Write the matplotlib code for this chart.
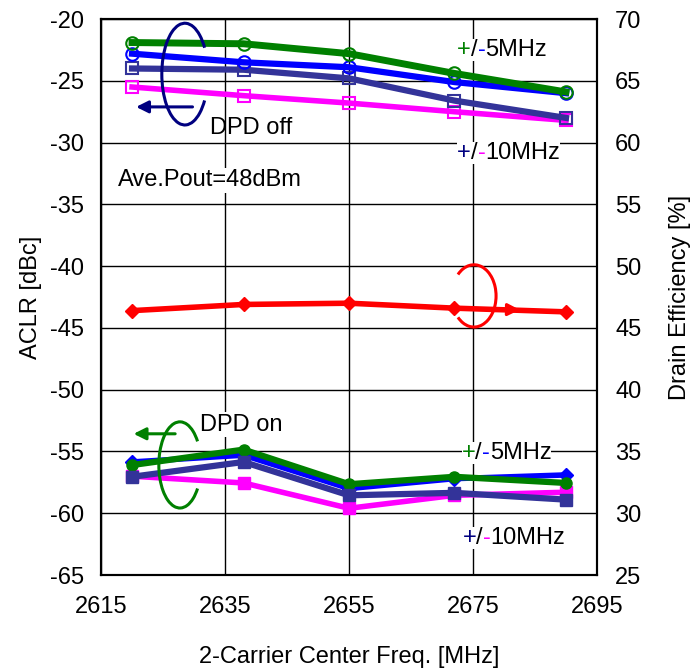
import matplotlib
matplotlib.use("Agg")
import matplotlib.pyplot as plt
from matplotlib.patches import Arc

plt.rcParams["font.family"] = ["Liberation Sans", "DejaVu Sans"]
plt.rcParams["font.size"] = 17
plt.rcParams["axes.unicode_minus"] = False

freq = [2620, 2638, 2655, 2672, 2690]

# ACLR, DPD off
off_plus5 = [-21.9, -22.0, -22.8, -24.4, -25.9]
off_minus5 = [-22.8, -23.5, -23.9, -25.1, -26.0]
off_plus10 = [-24.0, -24.1, -24.8, -26.6, -28.0]
off_minus10 = [-25.5, -26.2, -26.8, -27.5, -28.2]

# ACLR, DPD on
on_minus5 = [-55.85, -55.3, -58.0, -57.2, -56.9]
on_plus5 = [-56.1, -54.85, -57.65, -57.05, -57.55]
on_plus10 = [-57.05, -55.85, -58.55, -58.35, -58.9]
on_minus10 = [-57.0, -57.55, -59.6, -58.55, -58.3]

# drain efficiency
efficiency = [46.4, 46.9, 47.0, 46.6, 46.3]

GREEN = "#008000"
BLUE = "#0000ff"
SLATE = "#333399"
MAGENTA = "#ff00ff"
RED = "#ff0000"
NAVY = "#000080"

fig = plt.figure(figsize=(6.97, 6.69), dpi=100)
ax = fig.add_axes([0.145, 0.1405, 0.7115, 0.831])
ax2 = ax.twinx()

# DPD off - open markers
ax.plot(freq, off_minus10, color=MAGENTA, lw=4, marker="s", ms=8, mfc="none", mew=1.5, zorder=4)
ax.plot(freq, off_plus10, color=SLATE, lw=4.5, marker="s", ms=8, mfc="none", mew=1.5, zorder=4)
ax.plot(freq, off_minus5, color=BLUE, lw=4.5, marker="o", ms=9, mfc="none", mew=1.5, zorder=4)
ax.plot(freq, off_plus5, color=GREEN, lw=5, marker="o", ms=9, mfc="none", mew=1.5, zorder=4)

# DPD on - filled markers
ax.plot(freq, on_minus5, color=BLUE, lw=4, marker="D", ms=7, zorder=4)
ax.plot(freq, on_minus10, color=MAGENTA, lw=4, marker="s", ms=8, zorder=4)
ax.plot(freq, on_plus5, color=GREEN, lw=4.5, marker="o", ms=8, zorder=4)
ax.plot(freq, on_plus10, color=SLATE, lw=4.5, marker="s", ms=8, zorder=4)

ax2.plot(freq, efficiency, color=RED, lw=4, marker="D", ms=7, zorder=4)

ax.set_xlim(2615, 2695)
ax.set_ylim(-65, -20)
ax2.set_ylim(25, 70)
ax.set_xticks(range(2615, 2696, 20))
ax.set_yticks(range(-65, -19, 5))
ax2.set_yticks(range(25, 71, 5))
ax.grid(True, color="black", lw=1)
ax.tick_params(axis="y", length=0, pad=12)
ax.tick_params(axis="x", length=0, pad=15)
ax2.tick_params(length=0, pad=13)
for a in (ax, ax2):
    for s in a.spines.values():
        s.set_linewidth(1.5)

ax.set_xlabel("2-Carrier Center Freq. [MHz]")
ax.xaxis.set_label_coords(0.5, -0.128)
ax.set_ylabel("ACLR [dBc]", labelpad=6)
ax2.set_ylabel("Drain Efficiency [%]", labelpad=20)


def multi_text(axis, x, y, parts):
    # coloured pieces placed one after another, each on a white background
    box = dict(facecolor="white", edgecolor="none", pad=0)
    prev = axis.text(x, y, parts[0][0], color=parts[0][1], transform=axis.transAxes,
                     va="center", ha="left", bbox=box, zorder=3)
    for s, c in parts[1:]:
        prev = axis.annotate(s, xy=(1, 0), xycoords=prev, va="bottom", ha="left",
                             color=c, bbox=box, zorder=3)


multi_text(ax2, 0.718, 0.944, [("+", GREEN), ("/", "black"), ("-", BLUE), ("5MHz", "black")])
multi_text(ax2, 0.718, 0.759, [("+", NAVY), ("/", "black"), ("-", MAGENTA), ("10MHz", "black")])
multi_text(ax2, 0.727, 0.219, [("+", GREEN), ("/", "black"), ("-", BLUE), ("5MHz", "black")])
multi_text(ax2, 0.729, 0.0665, [("+", NAVY), ("/", "black"), ("-", MAGENTA), ("10MHz", "black")])

wbox = dict(facecolor="white", edgecolor="none", pad=1)
ax2.text(0.034, 0.710, "Ave.Pout=48dBm", transform=ax.transAxes, va="center", bbox=wbox, zorder=3)
ax2.text(0.220, 0.804, "DPD off", transform=ax.transAxes, va="center", zorder=3)
ax2.text(0.200, 0.270, "DPD on", transform=ax.transAxes, va="center", bbox=wbox, zorder=3)

# rotation arcs and arrows
ax2.add_patch(Arc((0.169, 0.901), 0.093, 0.183, theta1=50, theta2=310,
                  transform=ax.transAxes, color=NAVY, lw=2.2, zorder=5))
ax2.annotate("", xy=(0.065, 0.842), xytext=(0.19, 0.842), xycoords=ax.transAxes,
             arrowprops=dict(arrowstyle="-|>", color=NAVY, lw=2.2, mutation_scale=18), zorder=5)

ax2.add_patch(Arc((0.159, 0.198), 0.085, 0.155, theta1=50, theta2=310,
                  transform=ax.transAxes, color=GREEN, lw=2.2, zorder=5))
ax2.annotate("", xy=(0.060, 0.254), xytext=(0.155, 0.254), xycoords=ax.transAxes,
             arrowprops=dict(arrowstyle="-|>", color=GREEN, lw=2.2, mutation_scale=18), zorder=5)

ax2.add_patch(Arc((0.752, 0.502), 0.089, 0.112, theta1=-130, theta2=130,
                  transform=ax.transAxes, color=RED, lw=2.2, zorder=5))
ax2.annotate("", xy=(0.85, 0.477), xytext=(0.77, 0.478), xycoords=ax.transAxes,
             arrowprops=dict(arrowstyle="-|>", color=RED, lw=2.2, mutation_scale=18), zorder=5)

fig.savefig("out.png", dpi=100)
